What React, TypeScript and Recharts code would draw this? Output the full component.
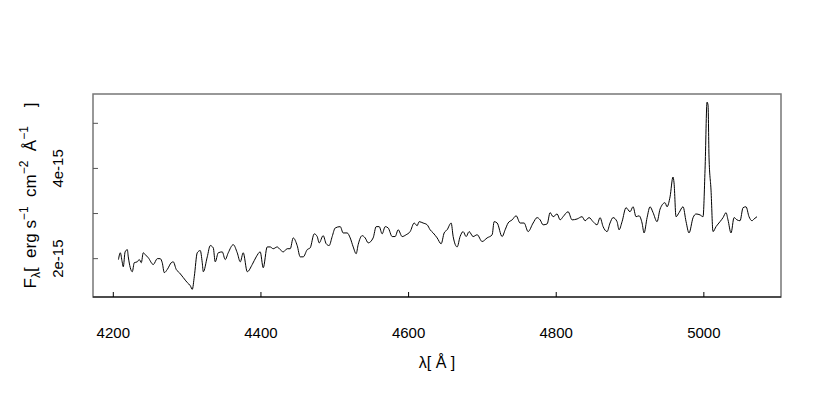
import React from 'react';
import { LineChart, Line, XAxis, YAxis, ReferenceArea } from 'recharts';

// wavelength in Å
const WAVELENGTH = [
  4207, 4209.5, 4212, 4213.5, 4216, 4219, 4220.3, 4223, 4225.7, 4228.4, 4232.5, 4235.2, 4237.9, 4240.6, 4243.3, 4247.4,
  4254.2, 4259.6, 4263.6, 4266.3, 4269.1, 4273.1, 4278.5, 4281.2, 4285.3, 4289.4, 4294.8, 4300.2, 4304.3, 4307, 4309.7,
  4313.7, 4317.8, 4320.5, 4321.9, 4327.3, 4331.3, 4335.4, 4338.1, 4342.2, 4347.6, 4351.6, 4355.7, 4362.5, 4367.9, 4372,
  4376, 4381.5, 4388.2, 4393.6, 4399, 4403.1, 4408.5, 4412.6, 4416.6, 4422, 4426.1, 4430.2, 4435.6, 4439.7, 4443.7,
  4449.1, 4453.2, 4457.3, 4462.7, 4466.7, 4472.2, 4476.2, 4478.9, 4484.3, 4488.4, 4492.4, 4496.5, 4500.6, 4507.4, 4511.4,
  4516.8, 4520.9, 4525, 4529, 4531.7, 4537.1, 4541.2, 4545.3, 4552, 4556.1, 4560.2, 4564.2, 4568.3, 4572.4, 4577.8,
  4581.8, 4585.9, 4591.3, 4596.7, 4602.1, 4607.6, 4611.6, 4614.3, 4619.7, 4625.2, 4629.2, 4633.3, 4638.7, 4644.1, 4648.2,
  4652.2, 4657.7, 4660.4, 4665.8, 4669.8, 4673.9, 4678, 4682, 4687.4, 4692.9, 4699.6, 4706.4, 4713.2, 4715.9, 4720,
  4726.7, 4730.8, 4734.8, 4740.3, 4745.7, 4751.1, 4756.5, 4761.9, 4768.7, 4774.1, 4778.2, 4782.2, 4787.7, 4791.7, 4795.8,
  4801.2, 4805.3, 4809.3, 4816.1, 4821.5, 4828.3, 4835, 4839.1, 4844.5, 4849.9, 4855.3, 4859.4, 4863.5, 4868.9, 4872.9,
  4877, 4882.4, 4885.1, 4889.2, 4894.6, 4900, 4904.1, 4908.1, 4912.2, 4916.3, 4919, 4923.1, 4927.1, 4931.2, 4936.6,
  4940.7, 4947.4, 4950.1, 4954.2, 4958.2, 4959.6, 4962.3, 4966.4, 4971.8, 4975.9, 4979.9, 4985.4, 4989.4, 4994.8, 4998.9,
  5001.6, 5004.3, 5005.7, 5007, 5009.7, 5012.4, 5016.5, 5021.9, 5026, 5030, 5032.7, 5036.8, 5040.9, 5044.9, 5049, 5053.1,
  5057.1, 5061.2, 5065.2, 5068, 5072,
];

// flux in units of 1e-15 erg s^-1 cm^-2 Å^-1
const FLUX = [
  1.98, 2.13, 1.93, 1.82, 2.15, 2.2, 2.04, 1.8, 1.71, 1.91, 1.93, 1.98, 1.91, 2.13, 2.09, 2.02,
  1.87, 2.0, 2.0, 1.91, 1.69, 1.76, 1.91, 1.93, 1.76, 1.69, 1.58, 1.47, 1.4, 1.32, 1.6,
  2.13, 2.18, 1.91, 1.71, 2.04, 2.29, 2.24, 1.93, 2.13, 2.15, 1.98, 2.13, 2.31, 2.13, 1.93,
  2.13, 1.71, 1.87, 2.04, 2.15, 1.8, 2.26, 2.26, 2.22, 2.26, 2.2, 2.15, 2.22, 2.22, 2.46,
  2.29, 2.04, 2.04, 2.2, 2.24, 2.55, 2.49, 2.35, 2.51, 2.33, 2.29, 2.49, 2.68, 2.71, 2.57,
  2.57, 2.46, 2.26, 2.11, 2.31, 2.51, 2.46, 2.35, 2.46, 2.71, 2.71, 2.55, 2.71, 2.68, 2.49,
  2.49, 2.64, 2.49, 2.53, 2.6, 2.79, 2.73, 2.82, 2.79, 2.75, 2.64, 2.57, 2.46, 2.33, 2.57,
  2.64, 2.79, 2.49, 2.26, 2.49, 2.6, 2.49, 2.6, 2.49, 2.53, 2.38, 2.46, 2.53, 2.82, 2.79,
  2.49, 2.64, 2.79, 2.86, 2.95, 2.79, 2.79, 2.6, 2.79, 2.91, 2.86, 2.75, 2.77, 3.02, 2.93,
  2.99, 2.86, 2.93, 3.04, 2.86, 2.88, 2.93, 2.84, 2.91, 2.82, 2.75, 2.91, 2.71, 2.6, 2.79,
  2.91, 2.82, 2.64, 2.82, 3.13, 3.04, 3.15, 2.93, 2.95, 2.79, 2.57, 2.91, 3.15, 3.02, 2.82,
  3.1, 3.24, 3.15, 3.37, 3.81, 3.68, 2.93, 3.02, 3.15, 2.82, 2.57, 2.91, 2.99, 2.97, 2.93,
  3.97, 5.47, 5.4, 4.25, 3.52, 2.6, 2.71, 2.82, 2.91, 3.02, 2.86, 2.57, 2.91, 2.86, 2.84, 3.13,
  3.15, 2.93, 2.84, 2.88, 2.93,
];

const X_TICKS = [4200, 4400, 4600, 4800, 5000];
const Y_TICKS = [2, 3, 4, 5];
const Y_TICK_LABELS: { [k: number]: string } = { 2: '2e-15', 4: '4e-15' };

const X_DOMAIN = [4172.5, 5104.5];
const Y_DOMAIN = [1.15, 5.65];

const FONT = '"Liberation Sans", Arial, Helvetica, sans-serif';
const NB = '\u00a0';

const XTick = (props: any) => {
  const { x, y, payload } = props;
  return (
    <g>
      <line x1={x} y1={y} x2={x} y2={y - 5} stroke="#000" />
      <text x={x} y={y + 41} textAnchor="middle" fontSize={15} fontFamily={FONT} fill="#000">
        {payload.value}
      </text>
    </g>
  );
};

const YTick = (props: any) => {
  const { x, y, payload } = props;
  const label = Y_TICK_LABELS[payload.value] || '';
  const tx = x - 30;
  return (
    <g>
      <line x1={x} y1={y} x2={x + 5} y2={y} stroke="#555" />
      {label && (
        <text x={tx} y={y} transform={`rotate(-90, ${tx}, ${y})`} textAnchor="middle"
          fontSize={15} fontFamily={FONT} fill="#000">
          {label}
        </text>
      )}
    </g>
  );
};

const XTitle = (props: any) => {
  const { viewBox } = props;
  const cx = viewBox.x + viewBox.width / 2;
  return (
    <text x={cx} y={viewBox.y + 71} textAnchor="middle" fontSize={16} fontFamily={FONT} fill="#000">
      λ[ Å ]
    </text>
  );
};

const YTitle = (props: any) => {
  const { viewBox } = props;
  const cx = viewBox.x + viewBox.width - 57;
  const cy = viewBox.y + viewBox.height / 2;
  return (
    <text x={cx} y={cy} transform={`rotate(-90, ${cx}, ${cy})`} textAnchor="middle"
      fontSize={17} fontFamily={FONT} fill="#000">
      <tspan>F</tspan>
      <tspan fontSize={12} dy={4}>λ</tspan>
      <tspan dy={-4}>{`[${NB} erg s`}</tspan>
      <tspan fontSize={12} dy={-8}>−1</tspan>
      <tspan dy={8}>{`${NB} cm`}</tspan>
      <tspan fontSize={12} dy={-8}>−2</tspan>
      <tspan dy={8}>{`${NB} Å`}</tspan>
      <tspan fontSize={12} dy={-8}>−1</tspan>
      <tspan dy={8}>{`${NB}${NB}${NB} ]`}</tspan>
    </text>
  );
};

const data = WAVELENGTH.map((w, i) => ({ w, f: FLUX[i] }));

export default function App() {
  return (
    <div style={{ position: 'absolute', left: 0, top: 0, width: 830, height: 415, background: '#fff' }}>
      <LineChart width={830} height={415} data={data} margin={{ top: 94, right: 49, bottom: 117, left: 92 }}>
        <XAxis
          dataKey="w"
          type="number"
          domain={X_DOMAIN}
          ticks={X_TICKS}
          allowDataOverflow
          height={1}
          tickSize={0}
          tickMargin={0}
          tickLine={false}
          tick={XTick}
          axisLine={{ stroke: '#000' }}
          interval={0}
          label={{ content: XTitle }}
        />
        <YAxis
          type="number"
          domain={Y_DOMAIN}
          ticks={Y_TICKS}
          allowDataOverflow
          width={1}
          tickSize={0}
          tickMargin={0}
          tickLine={false}
          tick={YTick}
          axisLine={false}
          interval={0}
          label={{ content: YTitle }}
        />
        <ReferenceArea x1={X_DOMAIN[0]} x2={X_DOMAIN[1]} y1={Y_DOMAIN[0]} y2={Y_DOMAIN[1]}
          fill="none" stroke="#777" strokeWidth={1.5} fillOpacity={0} />
        <Line type="monotone" dataKey="f" stroke="#000" strokeWidth={1} dot={false} isAnimationActive={false} />
      </LineChart>
    </div>
  );
}
